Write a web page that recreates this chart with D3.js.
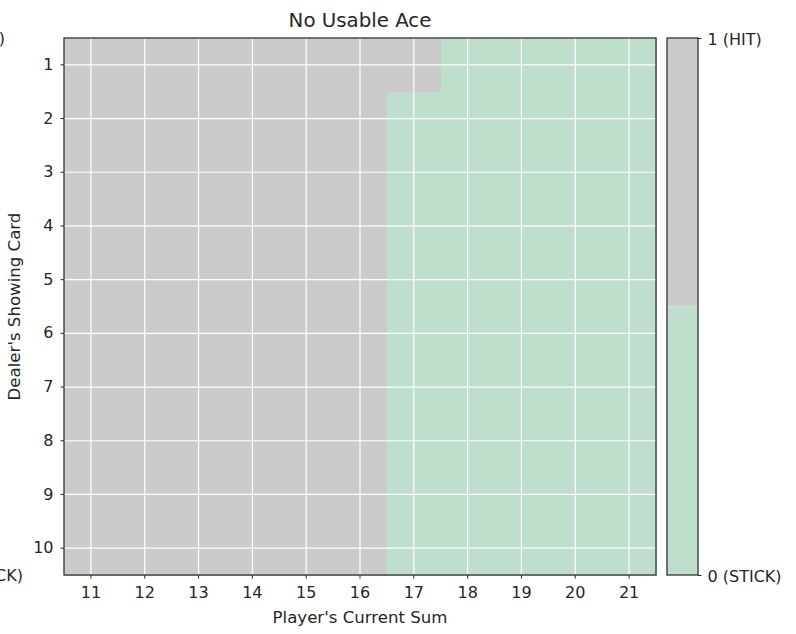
<!DOCTYPE html>
<html><head><meta charset="utf-8">
<script src="https://cdn.jsdelivr.net/npm/d3@7/dist/d3.min.js"></script>
<style>body{margin:0;background:#fff}svg{display:block}text{font-family:"DejaVu Sans",sans-serif;fill:#262626}</style>
</head><body>
<script>
const playerSums = [11,12,13,14,15,16,17,18,19,20,21];
const dealerCards = [1,2,3,4,5,6,7,8,9,10];
// policy: 1 = HIT, 0 = STICK ; rows = dealer card 1..10, cols = player sum 11..21
const policy = [
  [1,1,1,1,1,1,1,0,0,0,0],
  [1,1,1,1,1,1,0,0,0,0,0],
  [1,1,1,1,1,1,0,0,0,0,0],
  [1,1,1,1,1,1,0,0,0,0,0],
  [1,1,1,1,1,1,0,0,0,0,0],
  [1,1,1,1,1,1,0,0,0,0,0],
  [1,1,1,1,1,1,0,0,0,0,0],
  [1,1,1,1,1,1,0,0,0,0,0],
  [1,1,1,1,1,1,0,0,0,0,0],
  [1,1,1,1,1,1,0,0,0,0,0]
];
const colorbarTicks = [{v:1,label:"1 (HIT)"},{v:0,label:"0 (STICK)"}];
const titleText = "No Usable Ace";
const xLabel = "Player's Current Sum";
const yLabel = "Dealer's Showing Card";

const W=796,H=634;
const FS=16;
const LFS=16.6;
const m={l:64,r:656,t:38,b:575};
const svg=d3.select("body").append("svg").attr("width",W).attr("height",H);
const x=d3.scaleBand().domain(playerSums).range([m.l,m.r]).padding(0);
const y=d3.scaleBand().domain(dealerCards).range([m.t,m.b]).padding(0);
const color=d3.scaleOrdinal().domain([0,1]).range(["#bddfcc","#cbcbcb"]);

const cells=[];
policy.forEach((row,i)=>row.forEach((v,j)=>cells.push({d:dealerCards[i],p:playerSums[j],v})));
svg.append("g").selectAll("rect").data(cells).join("rect")
  .attr("x",d=>x(d.p)).attr("y",d=>y(d.d))
  .attr("width",x.bandwidth()+0.5).attr("height",y.bandwidth()+0.5)
  .attr("fill",d=>color(d.v)).attr("shape-rendering","crispEdges");

// grid
const g=svg.append("g").attr("stroke","#fff").attr("stroke-width",1.2);
playerSums.forEach(p=>g.append("line").attr("x1",x(p)+x.bandwidth()/2).attr("x2",x(p)+x.bandwidth()/2).attr("y1",m.t).attr("y2",m.b));
dealerCards.forEach(d=>g.append("line").attr("y1",y(d)+y.bandwidth()/2).attr("y2",y(d)+y.bandwidth()/2).attr("x1",m.l).attr("x2",m.r));

// axes
const xa=svg.append("g").attr("transform",`translate(0,${m.b})`)
  .call(d3.axisBottom(x).tickSize(3.5).tickPadding(8));
const ya=svg.append("g").attr("transform",`translate(${m.l},0)`)
  .call(d3.axisLeft(y).tickSize(3.5).tickPadding(7));
[xa,ya].forEach(a=>{a.select(".domain").remove();a.selectAll("text").attr("font-size",FS).attr("font-family","DejaVu Sans").attr("fill","#262626");a.selectAll("line").attr("stroke","#262626")});

svg.append("rect").attr("x",m.l).attr("y",m.t).attr("width",m.r-m.l).attr("height",m.b-m.t)
  .attr("fill","none").attr("stroke","#333").attr("stroke-width",1.3);

svg.append("text").attr("x",(m.l+m.r)/2).attr("y",27).attr("text-anchor","middle").attr("font-size",19.8).text(titleText);
svg.append("text").attr("x",(m.l+m.r)/2).attr("y",623).attr("text-anchor","middle").attr("font-size",LFS).text(xLabel);
svg.append("text").attr("transform",`translate(20,${(m.t+m.b)/2}) rotate(-90)`).attr("text-anchor","middle").attr("font-size",LFS).text(yLabel);

// colorbar
const cb={l:667,r:698};
const cy=d3.scaleLinear().domain([0,1]).range([m.b,m.t]);
svg.append("rect").attr("x",cb.l).attr("y",cy(1)).attr("width",cb.r-cb.l).attr("height",cy(0.5)-cy(1)).attr("fill",color(1));
svg.append("rect").attr("x",cb.l).attr("y",cy(0.5)).attr("width",cb.r-cb.l).attr("height",cy(0)-cy(0.5)).attr("fill",color(0));
svg.append("rect").attr("x",cb.l).attr("y",m.t).attr("width",cb.r-cb.l).attr("height",m.b-m.t).attr("fill","none").attr("stroke","#333").attr("stroke-width",1.3);
const ca=svg.append("g").attr("transform",`translate(${cb.r},0)`)
  .call(d3.axisRight(cy).tickValues(colorbarTicks.map(t=>t.v)).tickFormat((v)=>colorbarTicks.find(t=>t.v===v).label).tickSize(3.5).tickPadding(6));
ca.select(".domain").remove();
ca.selectAll("text").attr("font-size",FS).attr("font-family","DejaVu Sans").attr("fill","#262626").attr("dy","0.4em");
ca.selectAll("line").attr("stroke","#262626");

// clipped labels of neighbouring colorbar (left, cut off by figure edge)
svg.append("text").attr("x",5).attr("y",cy(1)).attr("dy","0.4em").attr("text-anchor","end").attr("font-size",FS).text(colorbarTicks[0].label);
svg.append("text").attr("x",23).attr("y",cy(0)).attr("dy","0.4em").attr("text-anchor","end").attr("font-size",FS).text(colorbarTicks[1].label);
</script>
</body></html>
